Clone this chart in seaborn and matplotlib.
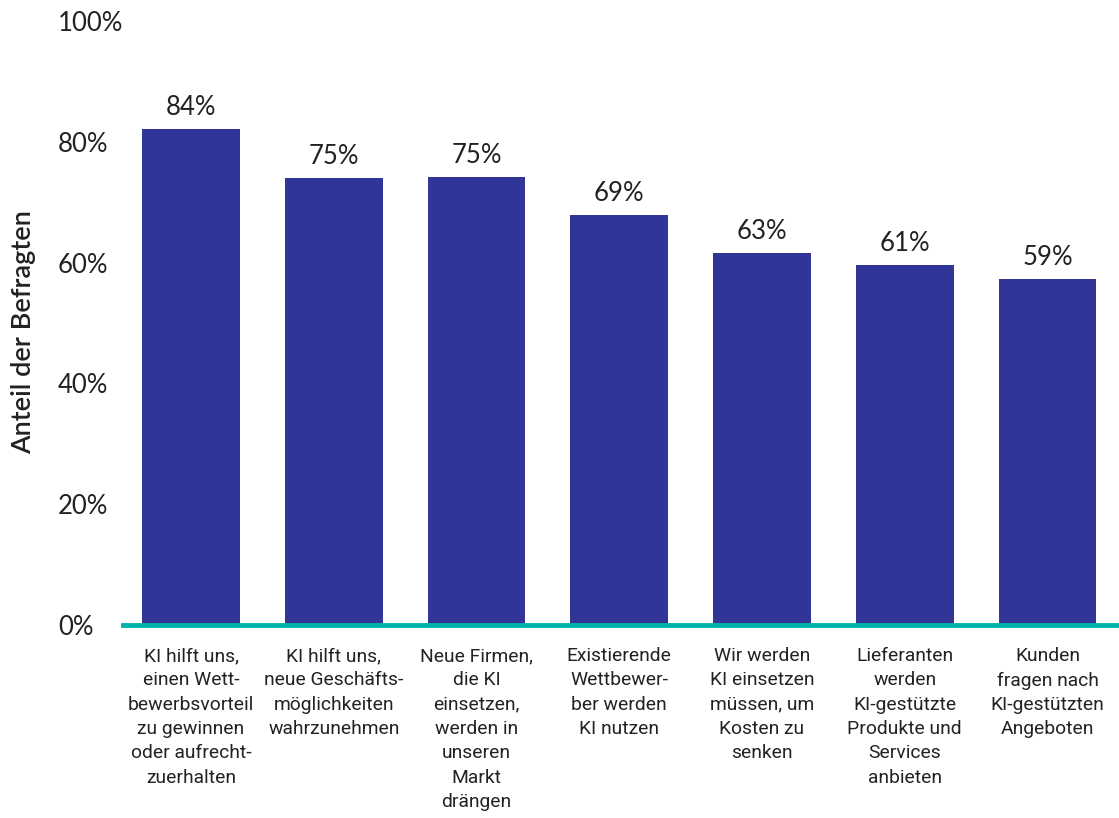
import matplotlib
matplotlib.use("Agg")
import matplotlib.pyplot as plt
import seaborn as sns
import pandas as pd

categories = [
    "KI hilft uns,\neinen Wett-\nbewerbsvorteil\nzu gewinnen\noder aufrecht-\nzuerhalten",
    "KI hilft uns,\nneue Geschäfts-\nmöglichkeiten\nwahrzunehmen",
    "Neue Firmen,\ndie KI\neinsetzen,\nwerden in\nunseren\nMarkt\ndrängen",
    "Existierende\nWettbewer-\nber werden\nKI nutzen",
    "Wir werden\nKI einsetzen\nmüssen, um\nKosten zu\nsenken",
    "Lieferanten\nwerden\nKI-gestützte\nProdukte und\nServices\nanbieten",
    "Kunden\nfragen nach\nKI-gestützten\nAngeboten",
]
bar_heights = [82.1, 74.0, 74.2, 67.9, 61.6, 59.6, 57.3]
value_labels = ["84%", "75%", "75%", "69%", "63%", "61%", "59%"]
yticks = [0, 20, 40, 60, 80, 100]
ytick_labels = ["0%", "20%", "40%", "60%", "80%", "100%"]

sns.set_theme(style="white")
plt.rcParams["font.family"] = ["Lato", "DejaVu Sans"]

df = pd.DataFrame({"cat": categories, "val": bar_heights})

fig = plt.figure(figsize=(11.19, 8.18), dpi=100)
ax = fig.add_axes([0.110, 0.236, 0.888, 0.738])

sns.barplot(data=df, x="cat", y="val", color="#313597", saturation=1,
            width=0.686, linewidth=0, ax=ax)

for i, (h, lab) in enumerate(zip(bar_heights, value_labels)):
    ax.text(i, h + 1.5, lab, ha="center", va="bottom", fontsize=18.5,
            color="#222222", family=["Lato", "DejaVu Sans"])

ax.set_xlim(-0.476, 6.485)
ax.set_ylim(0, 100)
ax.set_yticks(yticks)
ax.set_yticklabels(ytick_labels, fontsize=18.5, color="#222222", ha="left")
ax.tick_params(axis="y", length=0, pad=47)
ax.tick_params(axis="x", length=0, pad=16)
ax.set_xticks(range(len(categories)))
ax.set_xticklabels(categories, fontsize=13.9, color="#222222",
                   family=["Roboto", "DejaVu Sans"], linespacing=1.45,
                   va="top", ha="center")
ax.set_xlabel("")
ax.set_ylabel("Anteil der Befragten", fontsize=19.5, color="#222222",
              fontweight="semibold")
ax.yaxis.set_label_coords(-0.088, 0.485)

for s in ["top", "right", "left"]:
    ax.spines[s].set_visible(False)
ax.spines["bottom"].set_color("#00B2AC")
ax.spines["bottom"].set_linewidth(3.5)

fig.savefig("out.png", dpi=100)
